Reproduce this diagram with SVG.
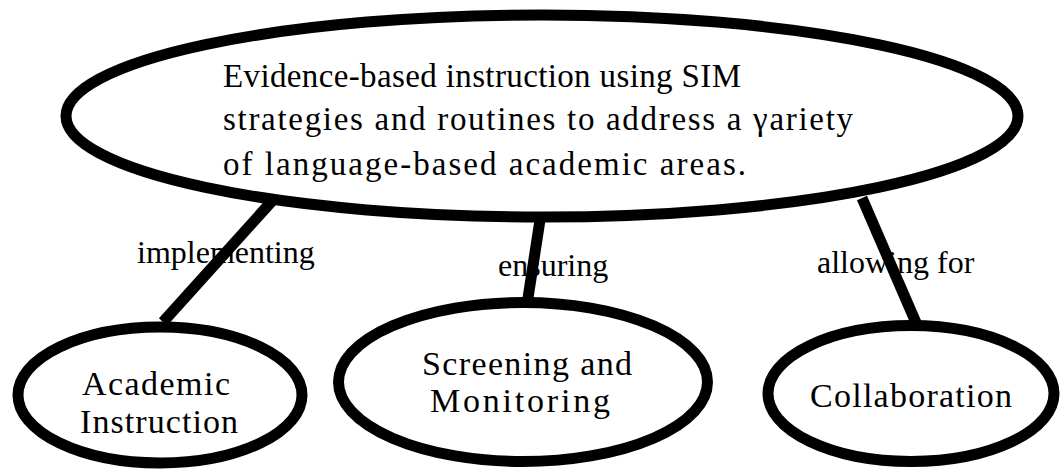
<svg xmlns="http://www.w3.org/2000/svg" width="1061" height="470" viewBox="0 0 1061 470">
<style>
.node{fill:#fff;stroke:#000;stroke-width:11}
.edge{stroke:#000;stroke-width:11;fill:none}
</style>
<rect width="1061" height="470" fill="#fff"/>
<g font-family="Liberation Serif, Times New Roman, serif" font-size="34" fill="#000">
<g id="main" font-size="33">
<ellipse class="node" cx="542" cy="116" rx="476" ry="101"/>
<text x="223" y="87" textLength="518" lengthAdjust="spacing">Evidence-based instruction using SIM</text>
<text x="223" y="130" textLength="630" lengthAdjust="spacing">strategies and routines to address a γariety</text>
<text x="223" y="175" textLength="523" lengthAdjust="spacing">of language-based academic areas.</text>
</g>
<g id="academic">
<ellipse class="node" cx="160" cy="395" rx="142" ry="68"/>
<text x="82" y="395" textLength="148" lengthAdjust="spacing">Academic</text>
<text x="80" y="433" textLength="158" lengthAdjust="spacing">Instruction</text>
</g>
<g id="screening">
<ellipse class="node" cx="523" cy="382" rx="184.5" ry="79.5"/>
<text x="422" y="375" textLength="210" lengthAdjust="spacing">Screening and</text>
<text x="430" y="412" textLength="180" lengthAdjust="spacing">Monitoring</text>
</g>
<g id="collaboration">
<ellipse class="node" cx="911" cy="393.5" rx="143" ry="68"/>
<text x="810" y="407" textLength="202" lengthAdjust="spacing">Collaboration</text>
</g>
<g id="labels" font-size="32">
<text x="137" y="263">implementing</text>
<text x="498" y="276">ensuring</text>
<text x="817" y="273">allowing for</text>
</g>
</g>
<g id="connectors">
<line class="edge" x1="273" y1="200" x2="163" y2="322"/>
<line class="edge" x1="540" y1="220" x2="528" y2="298"/>
<line class="edge" x1="862" y1="198" x2="917" y2="325"/>
</g>
</svg>
